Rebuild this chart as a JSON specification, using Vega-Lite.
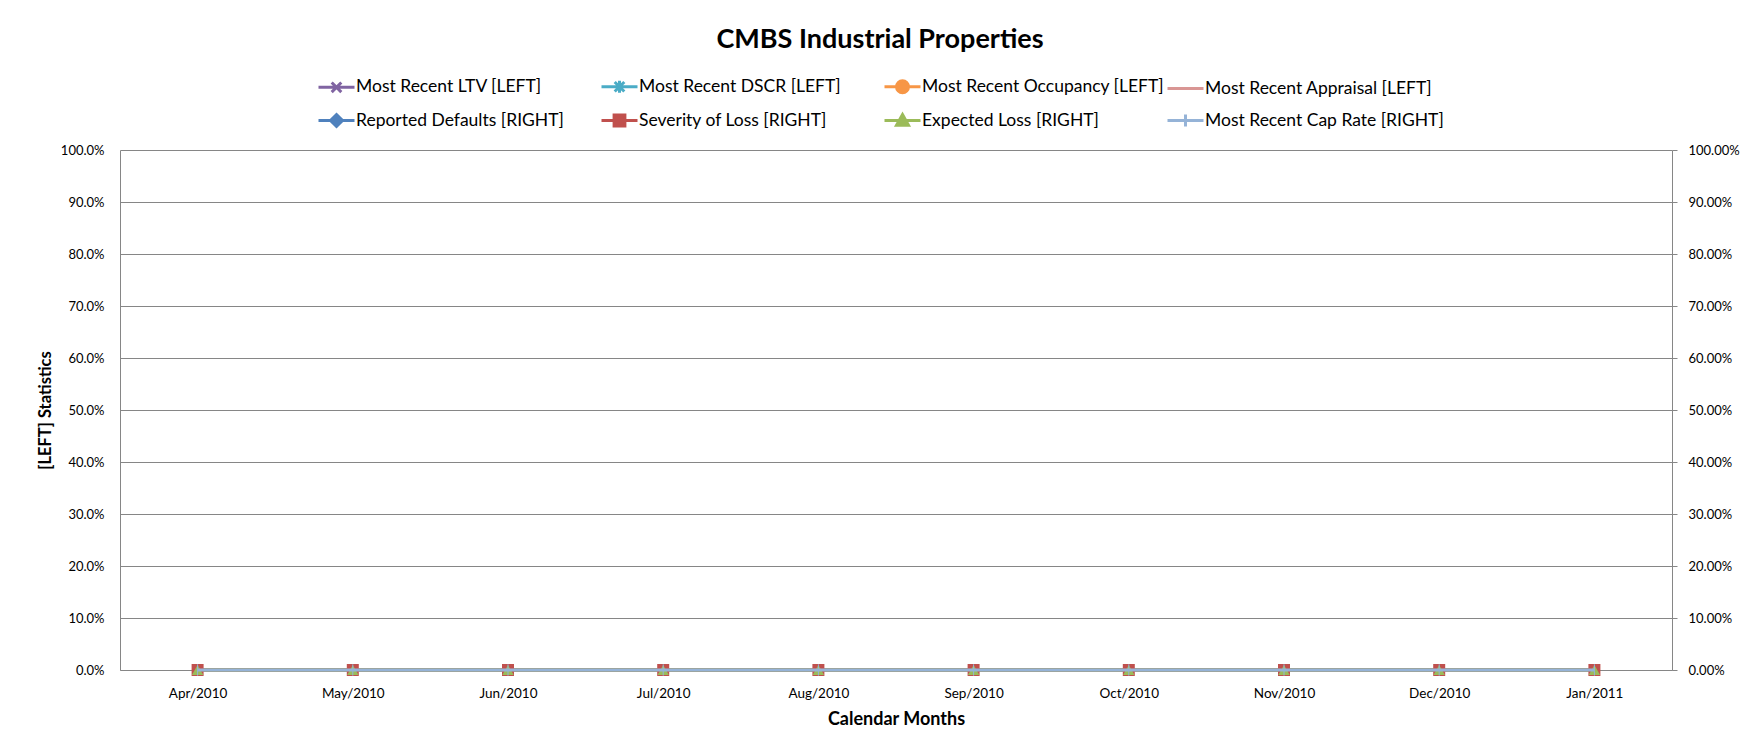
{
  "$schema": "https://vega.github.io/schema/vega-lite/v6.json",
  "width": 1552,
  "height": 520,
  "autosize": {"type": "none"},
  "padding": {"left": 120, "top": 150, "right": 80, "bottom": 75},
  "background": "#ffffff",
  "config": {
    "view": {"stroke": null},
    "font": "Lato",
    "axis": {"labelFont": "Lato", "titleFont": "Lato", "labelColor": "#000000", "titleColor": "#000000"}
  },
  "title": {"text": "CMBS Industrial Properties", "font": "Lato", "fontSize": 27, "fontWeight": "bold", "color": "#000000", "anchor": "middle", "frame": "group", "dx": -16, "offset": 19},
  "datasets": {
    "d": [
      {"m": "Apr/2010", "s": "Most Recent LTV [LEFT]", "v": 0},
      {"m": "May/2010", "s": "Most Recent LTV [LEFT]", "v": 0},
      {"m": "Jun/2010", "s": "Most Recent LTV [LEFT]", "v": 0},
      {"m": "Jul/2010", "s": "Most Recent LTV [LEFT]", "v": 0},
      {"m": "Aug/2010", "s": "Most Recent LTV [LEFT]", "v": 0},
      {"m": "Sep/2010", "s": "Most Recent LTV [LEFT]", "v": 0},
      {"m": "Oct/2010", "s": "Most Recent LTV [LEFT]", "v": 0},
      {"m": "Nov/2010", "s": "Most Recent LTV [LEFT]", "v": 0},
      {"m": "Dec/2010", "s": "Most Recent LTV [LEFT]", "v": 0},
      {"m": "Jan/2011", "s": "Most Recent LTV [LEFT]", "v": 0},
      {"m": "Apr/2010", "s": "Most Recent DSCR [LEFT]", "v": 0},
      {"m": "May/2010", "s": "Most Recent DSCR [LEFT]", "v": 0},
      {"m": "Jun/2010", "s": "Most Recent DSCR [LEFT]", "v": 0},
      {"m": "Jul/2010", "s": "Most Recent DSCR [LEFT]", "v": 0},
      {"m": "Aug/2010", "s": "Most Recent DSCR [LEFT]", "v": 0},
      {"m": "Sep/2010", "s": "Most Recent DSCR [LEFT]", "v": 0},
      {"m": "Oct/2010", "s": "Most Recent DSCR [LEFT]", "v": 0},
      {"m": "Nov/2010", "s": "Most Recent DSCR [LEFT]", "v": 0},
      {"m": "Dec/2010", "s": "Most Recent DSCR [LEFT]", "v": 0},
      {"m": "Jan/2011", "s": "Most Recent DSCR [LEFT]", "v": 0},
      {"m": "Apr/2010", "s": "Most Recent Occupancy [LEFT]", "v": 0},
      {"m": "May/2010", "s": "Most Recent Occupancy [LEFT]", "v": 0},
      {"m": "Jun/2010", "s": "Most Recent Occupancy [LEFT]", "v": 0},
      {"m": "Jul/2010", "s": "Most Recent Occupancy [LEFT]", "v": 0},
      {"m": "Aug/2010", "s": "Most Recent Occupancy [LEFT]", "v": 0},
      {"m": "Sep/2010", "s": "Most Recent Occupancy [LEFT]", "v": 0},
      {"m": "Oct/2010", "s": "Most Recent Occupancy [LEFT]", "v": 0},
      {"m": "Nov/2010", "s": "Most Recent Occupancy [LEFT]", "v": 0},
      {"m": "Dec/2010", "s": "Most Recent Occupancy [LEFT]", "v": 0},
      {"m": "Jan/2011", "s": "Most Recent Occupancy [LEFT]", "v": 0},
      {"m": "Apr/2010", "s": "Most Recent Appraisal [LEFT]", "v": 0},
      {"m": "May/2010", "s": "Most Recent Appraisal [LEFT]", "v": 0},
      {"m": "Jun/2010", "s": "Most Recent Appraisal [LEFT]", "v": 0},
      {"m": "Jul/2010", "s": "Most Recent Appraisal [LEFT]", "v": 0},
      {"m": "Aug/2010", "s": "Most Recent Appraisal [LEFT]", "v": 0},
      {"m": "Sep/2010", "s": "Most Recent Appraisal [LEFT]", "v": 0},
      {"m": "Oct/2010", "s": "Most Recent Appraisal [LEFT]", "v": 0},
      {"m": "Nov/2010", "s": "Most Recent Appraisal [LEFT]", "v": 0},
      {"m": "Dec/2010", "s": "Most Recent Appraisal [LEFT]", "v": 0},
      {"m": "Jan/2011", "s": "Most Recent Appraisal [LEFT]", "v": 0},
      {"m": "Apr/2010", "s": "Reported Defaults [RIGHT]", "v": 0},
      {"m": "May/2010", "s": "Reported Defaults [RIGHT]", "v": 0},
      {"m": "Jun/2010", "s": "Reported Defaults [RIGHT]", "v": 0},
      {"m": "Jul/2010", "s": "Reported Defaults [RIGHT]", "v": 0},
      {"m": "Aug/2010", "s": "Reported Defaults [RIGHT]", "v": 0},
      {"m": "Sep/2010", "s": "Reported Defaults [RIGHT]", "v": 0},
      {"m": "Oct/2010", "s": "Reported Defaults [RIGHT]", "v": 0},
      {"m": "Nov/2010", "s": "Reported Defaults [RIGHT]", "v": 0},
      {"m": "Dec/2010", "s": "Reported Defaults [RIGHT]", "v": 0},
      {"m": "Jan/2011", "s": "Reported Defaults [RIGHT]", "v": 0},
      {"m": "Apr/2010", "s": "Severity of Loss [RIGHT]", "v": 0},
      {"m": "May/2010", "s": "Severity of Loss [RIGHT]", "v": 0},
      {"m": "Jun/2010", "s": "Severity of Loss [RIGHT]", "v": 0},
      {"m": "Jul/2010", "s": "Severity of Loss [RIGHT]", "v": 0},
      {"m": "Aug/2010", "s": "Severity of Loss [RIGHT]", "v": 0},
      {"m": "Sep/2010", "s": "Severity of Loss [RIGHT]", "v": 0},
      {"m": "Oct/2010", "s": "Severity of Loss [RIGHT]", "v": 0},
      {"m": "Nov/2010", "s": "Severity of Loss [RIGHT]", "v": 0},
      {"m": "Dec/2010", "s": "Severity of Loss [RIGHT]", "v": 0},
      {"m": "Jan/2011", "s": "Severity of Loss [RIGHT]", "v": 0},
      {"m": "Apr/2010", "s": "Expected Loss [RIGHT]", "v": 0},
      {"m": "May/2010", "s": "Expected Loss [RIGHT]", "v": 0},
      {"m": "Jun/2010", "s": "Expected Loss [RIGHT]", "v": 0},
      {"m": "Jul/2010", "s": "Expected Loss [RIGHT]", "v": 0},
      {"m": "Aug/2010", "s": "Expected Loss [RIGHT]", "v": 0},
      {"m": "Sep/2010", "s": "Expected Loss [RIGHT]", "v": 0},
      {"m": "Oct/2010", "s": "Expected Loss [RIGHT]", "v": 0},
      {"m": "Nov/2010", "s": "Expected Loss [RIGHT]", "v": 0},
      {"m": "Dec/2010", "s": "Expected Loss [RIGHT]", "v": 0},
      {"m": "Jan/2011", "s": "Expected Loss [RIGHT]", "v": 0},
      {"m": "Apr/2010", "s": "Most Recent Cap Rate [RIGHT]", "v": 0},
      {"m": "May/2010", "s": "Most Recent Cap Rate [RIGHT]", "v": 0},
      {"m": "Jun/2010", "s": "Most Recent Cap Rate [RIGHT]", "v": 0},
      {"m": "Jul/2010", "s": "Most Recent Cap Rate [RIGHT]", "v": 0},
      {"m": "Aug/2010", "s": "Most Recent Cap Rate [RIGHT]", "v": 0},
      {"m": "Sep/2010", "s": "Most Recent Cap Rate [RIGHT]", "v": 0},
      {"m": "Oct/2010", "s": "Most Recent Cap Rate [RIGHT]", "v": 0},
      {"m": "Nov/2010", "s": "Most Recent Cap Rate [RIGHT]", "v": 0},
      {"m": "Dec/2010", "s": "Most Recent Cap Rate [RIGHT]", "v": 0},
      {"m": "Jan/2011", "s": "Most Recent Cap Rate [RIGHT]", "v": 0}
    ]
  },
  "data": {"name": "d"},
  "encoding": {
    "x": {
      "field": "m", "type": "ordinal", "sort": null,
      "scale": {"type": "point", "padding": 0.5},
      "axis": {
        "title": "Calendar Months", "titleFontSize": 18, "titleFontWeight": "bold", "titlePadding": 11,
        "labelAngle": 0, "labelFontSize": 13.5, "labelPadding": 16, "ticks": false,
        "domainColor": "#868686", "domainWidth": 1, "grid": false
      }
    },
    "color": {"field": "s", "type": "nominal",
      "scale": {"domain": ["Most Recent LTV [LEFT]", "Most Recent DSCR [LEFT]", "Most Recent Occupancy [LEFT]", "Most Recent Appraisal [LEFT]", "Reported Defaults [RIGHT]", "Severity of Loss [RIGHT]", "Expected Loss [RIGHT]", "Most Recent Cap Rate [RIGHT]"],
                "range": ["#8064A2", "#4BACC6", "#F79646", "#D99694", "#4F81BD", "#C0504D", "#9BBB59", "#95B3D7"]},
      "legend": {
        "orient": "none", "legendX": 203, "legendY": -77, "direction": "horizontal", "columns": 4,
        "title": null, "padding": 0, "labelFont": "Lato", "labelFontSize": 17.5, "labelColor": "#000000",
        "labelLimit": 600, "labelOffset": 6, "symbolSize": 576, "symbolStrokeWidth": 3,
        "columnPadding": -4, "rowPadding": 8, "gridAlign": "all",
        "encoding": {"symbols": {
          "fill": {"value": {"expr": "scale('color', datum.value)"}},
          "stroke": {"value": {"expr": "scale('color', datum.value)"}},
          "opacity": {"value": 1},
          "strokeWidth": {"value": 3},
          "size": {"value": 576}
        }}
      }
    }
  },
  "layer": [
    {
      "encoding": {
        "y": {
          "field": "v", "type": "quantitative",
          "scale": {"domain": [0, 1], "nice": false, "zero": true},
          "axis": {
            "orient": "left", "title": "[LEFT] Statistics", "titleFontSize": 16.5, "titleFontWeight": "bold", "titlePadding": 7,
            "values": [0, 0.1, 0.2, 0.3, 0.4, 0.5, 0.6, 0.7, 0.8, 0.9, 1], "format": ".1%",
            "labelFontSize": 13, "labelPadding": 16, "ticks": false,
            "grid": true, "gridColor": "#868686", "gridWidth": 1,
            "domainColor": "#868686", "domainWidth": 1
          }
        }
      },
      "layer": [
        {
          "transform": [{"filter": {"field": "s", "oneOf": ["Most Recent LTV [LEFT]", "Most Recent DSCR [LEFT]", "Most Recent Occupancy [LEFT]", "Most Recent Appraisal [LEFT]"]}}],
          "mark": {"type": "line", "strokeWidth": 3}
        },
        {
          "transform": [{"filter": {"field": "s", "equal": "Most Recent Occupancy [LEFT]"}}],
          "mark": {"type": "point", "shape": "circle", "filled": true, "size": 130, "opacity": 1}
        }
      ]
    },
    {
      "encoding": {
        "y": {
          "field": "v", "type": "quantitative",
          "scale": {"domain": [0, 1], "nice": false, "zero": true},
          "axis": {
            "orient": "right", "title": null,
            "values": [0, 0.1, 0.2, 0.3, 0.4, 0.5, 0.6, 0.7, 0.8, 0.9, 1], "format": ".2%",
            "labelFontSize": 13, "labelPadding": 11, "ticks": true, "tickSize": 5, "tickColor": "#868686",
            "grid": false, "domainColor": "#868686", "domainWidth": 1
          }
        }
      },
      "layer": [
        {
          "mark": {"type": "point", "filled": true, "opacity": 0},
          "encoding": {
            "shape": {"field": "s", "type": "nominal",
              "scale": {"domain": ["Most Recent LTV [LEFT]", "Most Recent DSCR [LEFT]", "Most Recent Occupancy [LEFT]", "Most Recent Appraisal [LEFT]", "Reported Defaults [RIGHT]", "Severity of Loss [RIGHT]", "Expected Loss [RIGHT]", "Most Recent Cap Rate [RIGHT]"],
                        "range": [
                          "M-1.5,0H1.5M-0.4,-0.4L0.4,0.4M-0.4,0.4L0.4,-0.4",
                          "M-1.5,0H1.5M-0.4,-0.4L0.4,0.4M-0.4,0.4L0.4,-0.4M0,-0.5V0.5",
                          "M-1.5,0H1.5M0.5,0A0.5,0.5 0 1,1 -0.5,0A0.5,0.5 0 1,1 0.5,0Z",
                          "M-1.5,0H1.5",
                          "M-1.5,0H1.5M0,-0.5L0.5,0L0,0.5L-0.5,0Z",
                          "M-1.5,0H1.5M-0.45,-0.45H0.45V0.45H-0.45Z",
                          "M-1.5,0H1.5M0,-0.5L0.5,0.4H-0.5Z",
                          "M-1.5,0H1.5M0,-0.5V0.5"
                        ]},
              "legend": {
                "orient": "none", "legendX": 203, "legendY": -77, "direction": "horizontal", "columns": 4,
                "title": null, "padding": 0, "labelFont": "Lato", "labelFontSize": 17.5, "labelColor": "#000000",
                "labelLimit": 600, "labelOffset": 6, "symbolSize": 576, "symbolStrokeWidth": 3,
                "columnPadding": -4, "rowPadding": 8, "gridAlign": "all",
                "encoding": {"symbols": {
                  "fill": {"value": {"expr": "scale('color', datum.value)"}},
                  "stroke": {"value": {"expr": "scale('color', datum.value)"}},
                  "opacity": {"value": 1},
                  "strokeWidth": {"value": 3},
                  "size": {"value": 576}
                }}
              }
            }
          }
        },
        {
          "transform": [{"filter": {"field": "s", "oneOf": ["Reported Defaults [RIGHT]", "Severity of Loss [RIGHT]", "Expected Loss [RIGHT]"]}}],
          "mark": {"type": "line", "strokeWidth": 3}
        },
        {
          "transform": [{"filter": {"field": "s", "equal": "Reported Defaults [RIGHT]"}}],
          "mark": {"type": "point", "shape": "diamond", "filled": true, "size": 130, "opacity": 1}
        },
        {
          "transform": [{"filter": {"field": "s", "equal": "Severity of Loss [RIGHT]"}}],
          "mark": {"type": "point", "shape": "square", "filled": true, "size": 144, "opacity": 1}
        },
        {
          "transform": [{"filter": {"field": "s", "equal": "Expected Loss [RIGHT]"}}],
          "mark": {"type": "point", "shape": "triangle-up", "filled": true, "size": 130, "opacity": 1}
        },
        {
          "transform": [{"filter": {"field": "s", "equal": "Most Recent Cap Rate [RIGHT]"}}],
          "mark": {"type": "line", "strokeWidth": 3}
        },
        {
          "transform": [{"filter": {"field": "s", "equal": "Most Recent Cap Rate [RIGHT]"}}],
          "mark": {"type": "point", "shape": "M0,-1V1", "filled": false, "size": 130, "strokeWidth": 1, "opacity": 1}
        }
      ]
    }
  ],
  "resolve": {"scale": {"y": "independent"}}
}
